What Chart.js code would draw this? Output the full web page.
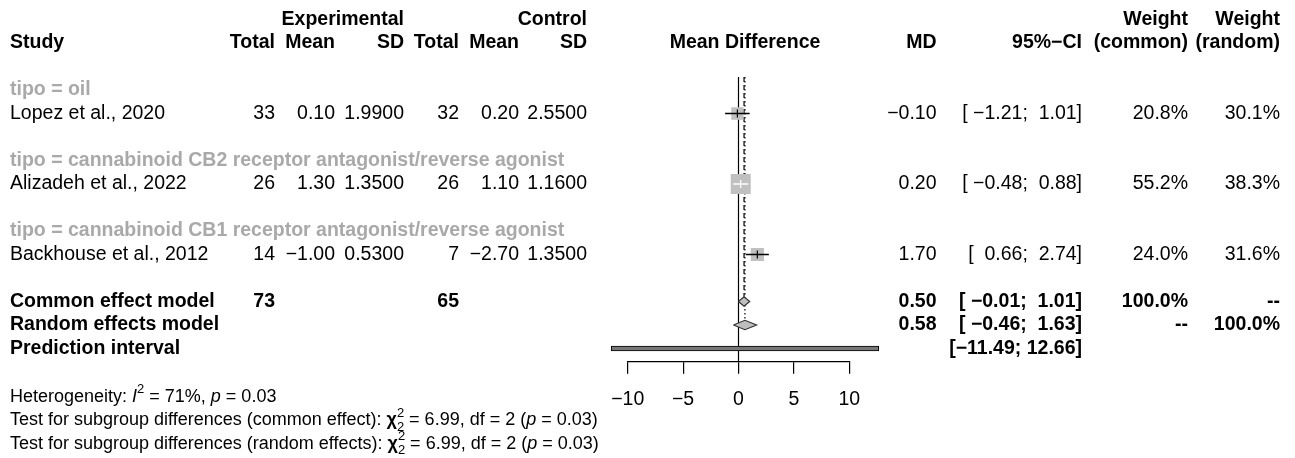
<!DOCTYPE html>
<html>
<head>
<meta charset="utf-8">
<script src="https://cdn.jsdelivr.net/npm/chart.js@4.4.1/dist/chart.umd.min.js"></script>
<style>
html, body { margin: 0; padding: 0; background: #fff; }
#wrap { position: relative; width: 1295px; height: 458px; }
</style>
</head>
<body>
<div id="wrap"><canvas id="forest"></canvas></div>
<script>
// study rows
var subgroups = ['tipo = oil', 'tipo = cannabinoid CB2 receptor antagonist/reverse agonist', 'tipo = cannabinoid CB1 receptor antagonist/reverse agonist'];
var studies = ['Lopez et al., 2020', 'Alizadeh et al., 2022', 'Backhouse et al., 2012'];
var expTotal = [33, 26, 14];
var expMean = [0.10, 1.30, -1.00];
var expSD = [1.99, 1.35, 0.53];
var ctrlTotal = [32, 26, 7];
var ctrlMean = [0.20, 1.10, -2.70];
var ctrlSD = [2.55, 1.16, 1.35];
var md = [-0.10, 0.20, 1.70];
var ciLow = [-1.21, -0.48, 0.66];
var ciHigh = [1.01, 0.88, 2.74];
var weightCommon = [20.8, 55.2, 24.0];
var weightRandom = [30.1, 38.3, 31.6];

// pooled results
var pooledLabels = ['Common effect model', 'Random effects model', 'Prediction interval'];
var pooledTotals = [73, 65];
var pooledMD = [0.50, 0.58];
var pooledLow = [-0.01, -0.46];
var pooledHigh = [1.01, 1.63];
var predInterval = [-11.49, 12.66];

var xTicks = [-10, -5, 0, 5, 10];

// heterogeneity / subgroup tests
var hetI2 = 71, hetP = 0.03;
var subgroupTests = ['common effect', 'random effects'];
var subgroupChi2 = [6.99, 6.99];
var subgroupDf = [2, 2];
var subgroupP = [0.03, 0.03];

// layout
var FONT = '"Liberation Sans", Arial, sans-serif';
var FS = 19.5;
var rowsGroup = [3, 6, 9];
var rowsStudy = [4, 7, 10];
var rowsPooled = [12, 13, 14];
var rowsHet = [16.05, 17.05, 18.05];
var yTop = 2.447, yBottom = 14.562;
var diamondHalf = 0.2;

function squareSide(w) { return 2.69 * Math.sqrt(w); }

function num(v, d) {
	return (v < 0 ? '\u2212' : '') + Math.abs(v).toFixed(d);
}
function pad(s, n) {
	while (s.length < n) s = '\u00a0' + s;
	return s;
}
function ciText(lo, hi) {
	return '[' + pad(num(lo, 2), 6) + ';\u00a0' + pad(num(hi, 2), 5) + ']';
}

function inside(i, chart) {
	var xs = chart.scales.x;
	var w = xs.getPixelForValue(ciHigh[i]) - xs.getPixelForValue(ciLow[i]);
	return w <= squareSide(weightCommon[i]);
}

var datasets = [];

// reference line at 0, common (dashed) and random (dotted) lines
datasets.push({ data: [{x: 0, y: yTop}, {x: 0, y: yBottom}], showLine: true, borderColor: '#000', borderWidth: 1.2, pointRadius: 0, order: 20 });
datasets.push({ data: [{x: pooledMD[0], y: yTop}, {x: pooledMD[0], y: rowsPooled[0] - diamondHalf}], showLine: true, borderColor: '#000', borderWidth: 1.2, borderDash: [5, 3], pointRadius: 0, order: 19 });
datasets.push({ data: [{x: pooledMD[1], y: yTop}, {x: pooledMD[1], y: rowsPooled[1] - diamondHalf}], showLine: true, borderColor: '#000', borderWidth: 1.2, borderDash: [1.5, 2.5], pointRadius: 0, order: 18 });

// prediction interval
datasets.push({
	type: 'bar', indexAxis: 'y',
	data: [{x: [predInterval[0], predInterval[1]], y: rowsPooled[2]}],
	backgroundColor: '#777', borderColor: '#000', borderWidth: 1, borderSkipped: false,
	barThickness: 5, clip: false, order: 15
});

// diamonds
for (var k = 0; k < 2; k++) {
	var r = rowsPooled[k];
	datasets.push({
		data: [
			{x: pooledLow[k], y: r}, {x: pooledMD[k], y: r - diamondHalf},
			{x: pooledHigh[k], y: r}, {x: pooledMD[k], y: r + diamondHalf},
			{x: pooledLow[k], y: r}
		],
		showLine: true, fill: 'shape', tension: 0,
		backgroundColor: '#bebebe', borderColor: '#333', borderWidth: 1.2,
		pointRadius: 0, order: 12
	});
}

// study squares
datasets.push({
	data: md.map(function(m, i) { return {x: m, y: rowsStudy[i]}; }),
	pointStyle: 'rect',
	pointRadius: weightCommon.map(function(w) { return squareSide(w) / Math.SQRT2; }),
	backgroundColor: '#c0c0c0', borderWidth: 0, pointBorderWidth: 0, order: 10
});

// confidence intervals
md.forEach(function(m, i) {
	datasets.push({
		data: [{x: ciLow[i], y: rowsStudy[i]}, {x: ciHigh[i], y: rowsStudy[i]}],
		showLine: true, pointRadius: 0, borderWidth: 1.3,
		borderColor: function(c) { return inside(i, c.chart) ? '#fff' : '#000'; },
		order: 8
	});
});

// estimate tick marks
datasets.push({
	data: md.map(function(m, i) { return {x: m, y: rowsStudy[i]}; }),
	pointStyle: 'line', pointRotation: 90, pointRadius: 4, pointBorderWidth: 1.2,
	pointBorderColor: function(c) { return inside(c.dataIndex, c.chart) ? '#fff' : '#000'; },
	order: 5
});

function text(ctx, s, x, y, align, opts) {
	opts = opts || {};
	ctx.font = (opts.bold ? 'bold ' : '') + (opts.size || FS) + 'px ' + FONT;
	ctx.textAlign = align;
	ctx.textBaseline = 'middle';
	ctx.fillStyle = opts.color || '#000';
	ctx.fillText(s, x, y);
}

// draw a line of text made of styled runs
function runs(ctx, x, y, parts, size) {
	ctx.textAlign = 'left';
	ctx.textBaseline = 'middle';
	ctx.fillStyle = '#000';
	parts.forEach(function(p) {
		if (p.stack) {
			ctx.font = Math.round(size * 0.7) + 'px ' + FONT;
			ctx.fillText(p.stack[0], x, y - size * 0.38);
			ctx.fillText(p.stack[1], x, y + size * 0.38);
			x += Math.max(ctx.measureText(p.stack[0]).width, ctx.measureText(p.stack[1]).width);
			return;
		}
		var sz = p.sup ? Math.round(size * 0.7) : size;
		ctx.font = (p.italic ? 'italic ' : '') + (p.bold ? 'bold ' : '') + sz + 'px ' + FONT;
		ctx.fillText(p.t, x, p.sup ? y - size * 0.38 : y);
		x += ctx.measureText(p.t).width;
	});
}

var col = { expTotal: 275, expMean: 335, expSD: 404, ctrlTotal: 459, ctrlMean: 519, ctrlSD: 587,
	md: 936.5, ci: 1082, wCommon: 1188, wRandom: 1280 };

var tablePlugin = {
	id: 'table',
	afterDraw: function(chart) {
		var ctx = chart.ctx;
		var ys = chart.scales.y;
		var Y = function(r) { return ys.getPixelForValue(r); };
		var B = { bold: true };
		ctx.save();

		// header
		text(ctx, 'Experimental', col.expSD, Y(0), 'right', B);
		text(ctx, 'Control', col.ctrlSD, Y(0), 'right', B);
		text(ctx, 'Weight', col.wCommon, Y(0), 'right', B);
		text(ctx, 'Weight', col.wRandom, Y(0), 'right', B);
		text(ctx, 'Study', 10, Y(1), 'left', B);
		text(ctx, 'Total', col.expTotal, Y(1), 'right', B);
		text(ctx, 'Mean', col.expMean, Y(1), 'right', B);
		text(ctx, 'SD', col.expSD, Y(1), 'right', B);
		text(ctx, 'Total', col.ctrlTotal, Y(1), 'right', B);
		text(ctx, 'Mean', col.ctrlMean, Y(1), 'right', B);
		text(ctx, 'SD', col.ctrlSD, Y(1), 'right', B);
		text(ctx, 'Mean Difference', 745, Y(1), 'center', B);
		text(ctx, 'MD', col.md, Y(1), 'right', B);
		text(ctx, '95%\u2212CI', col.ci, Y(1), 'right', B);
		text(ctx, '(common)', col.wCommon, Y(1), 'right', B);
		text(ctx, '(random)', col.wRandom, Y(1), 'right', B);

		// subgroups and studies
		studies.forEach(function(s, i) {
			text(ctx, subgroups[i], 10, Y(rowsGroup[i]), 'left', { bold: true, color: '#a9a9a9' });
			var y = Y(rowsStudy[i]);
			text(ctx, s, 10, y, 'left');
			text(ctx, String(expTotal[i]), col.expTotal, y, 'right');
			text(ctx, num(expMean[i], 2), col.expMean, y, 'right');
			text(ctx, num(expSD[i], 4), col.expSD, y, 'right');
			text(ctx, String(ctrlTotal[i]), col.ctrlTotal, y, 'right');
			text(ctx, num(ctrlMean[i], 2), col.ctrlMean, y, 'right');
			text(ctx, num(ctrlSD[i], 4), col.ctrlSD, y, 'right');
			text(ctx, num(md[i], 2), col.md, y, 'right');
			text(ctx, ciText(ciLow[i], ciHigh[i]), col.ci, y, 'right');
			text(ctx, weightCommon[i].toFixed(1) + '%', col.wCommon, y, 'right');
			text(ctx, weightRandom[i].toFixed(1) + '%', col.wRandom, y, 'right');
		});

		// pooled rows
		var y0 = Y(rowsPooled[0]), y1 = Y(rowsPooled[1]), y2 = Y(rowsPooled[2]);
		pooledLabels.forEach(function(l, i) { text(ctx, l, 10, Y(rowsPooled[i]), 'left', B); });
		text(ctx, String(pooledTotals[0]), col.expTotal, y0, 'right', B);
		text(ctx, String(pooledTotals[1]), col.ctrlTotal, y0, 'right', B);
		text(ctx, num(pooledMD[0], 2), col.md, y0, 'right', B);
		text(ctx, ciText(pooledLow[0], pooledHigh[0]), col.ci, y0, 'right', B);
		text(ctx, '100.0%', col.wCommon, y0, 'right', B);
		text(ctx, '--', col.wRandom, y0, 'right', B);
		text(ctx, num(pooledMD[1], 2), col.md, y1, 'right', B);
		text(ctx, ciText(pooledLow[1], pooledHigh[1]), col.ci, y1, 'right', B);
		text(ctx, '--', col.wCommon, y1, 'right', B);
		text(ctx, '100.0%', col.wRandom, y1, 'right', B);
		text(ctx, ciText(predInterval[0], predInterval[1]), col.ci, y2, 'right', B);

		// heterogeneity
		var hs = 18;
		runs(ctx, 10, Y(rowsHet[0]), [
			{t: 'Heterogeneity: '}, {t: 'I', italic: true}, {t: '2', sup: true},
			{t: ' = ' + hetI2 + '%, '}, {t: 'p', italic: true}, {t: ' = ' + hetP.toFixed(2)}
		], hs);
		subgroupTests.forEach(function(name, i) {
			runs(ctx, 10, Y(rowsHet[i + 1]), [
				{t: 'Test for subgroup differences (' + name + '): '},
				{t: '\u03c7', bold: true}, {stack: ['2', String(subgroupDf[i])]},
				{t: ' = ' + subgroupChi2[i].toFixed(2) + ', df = ' + subgroupDf[i] + ' ('},
				{t: 'p', italic: true}, {t: ' = ' + subgroupP[i].toFixed(2) + ')'}
			], hs);
		});
		ctx.restore();
	}
};

Chart.defaults.font.family = FONT;

new Chart(document.getElementById('forest'), {
	type: 'scatter',
	data: { datasets: datasets },
	options: {
		responsive: true,
		maintainAspectRatio: false,
		animation: false,
		events: [],
		layout: { padding: { left: 627.7, right: 445.7, top: 77, bottom: 0 } },
		plugins: { legend: { display: false }, tooltip: { enabled: false } },
		scales: {
			x: {
				type: 'linear', min: -10, max: 10, offset: false,
				afterBuildTicks: function(s) { s.ticks = xTicks.map(function(v) { return {value: v}; }); },
				afterFit: function(s) { s.height = 96.3; },
				ticks: {
					color: '#000', font: { size: FS }, padding: 14, maxRotation: 0,
					callback: function(v) { return v < 0 ? '\u2212' + Math.abs(v) : String(v); }
				},
				grid: { display: true, drawOnChartArea: false, drawTicks: true, tickLength: 12, color: '#000', lineWidth: 1.2, offset: false },
				border: { display: true, color: '#000', width: 1.2 }
			},
			y: {
				type: 'linear', display: false, reverse: true, offset: false,
				min: yTop, max: yBottom,
				grid: { offset: false }
			}
		}
	},
	plugins: [tablePlugin]
});
</script>
</body>
</html>
